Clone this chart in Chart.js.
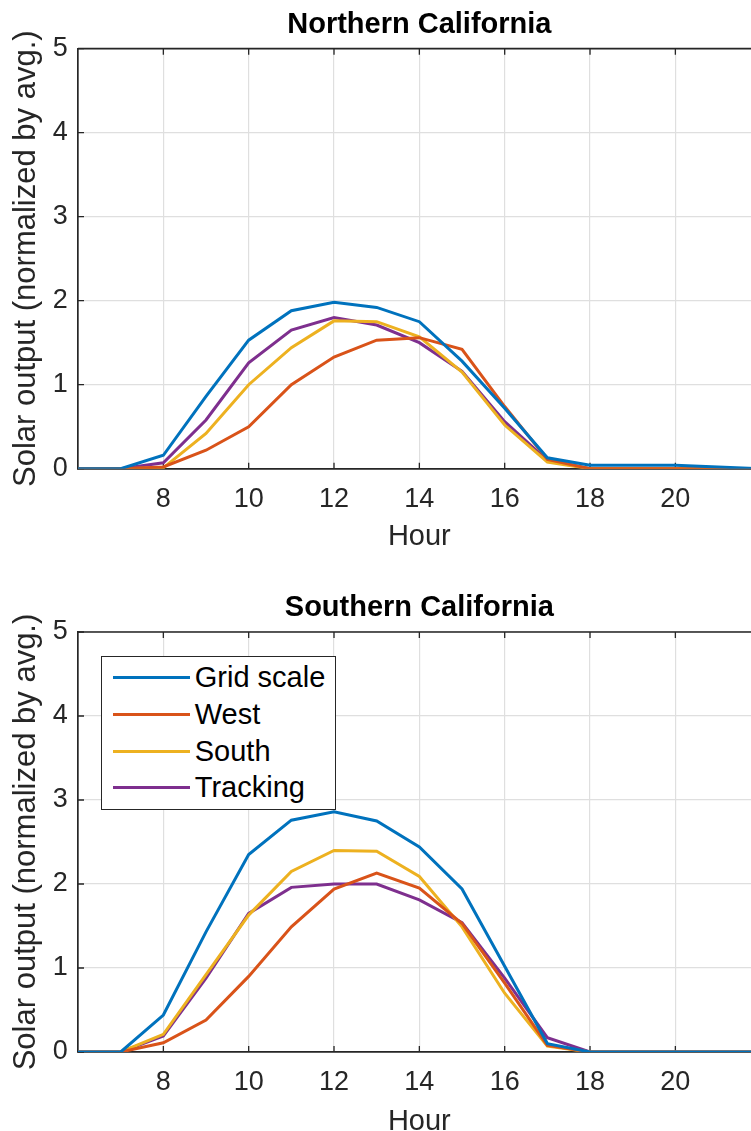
<!DOCTYPE html>
<html>
<head>
<meta charset="utf-8">
<script src="https://cdn.jsdelivr.net/npm/chart.js@4.4.1/dist/chart.umd.min.js"></script>
<style>
    html, body { margin: 0; padding: 0; background: #fff; }
    #figura { position: relative; width: 751px; height: 1131px; overflow: hidden; background: #fff; }
    .panel { position: absolute; left: 0; }
    #leyenda {
        position: absolute;
        width: 235px;
        height: 154px;
        box-sizing: border-box;
        border: 1.5px solid #262626;
        background: #fff;
        padding-top: 2.4px;
        font-family: "Liberation Sans", Arial, Helvetica, sans-serif;
        font-size: 29px;
        color: #000;
        white-space: nowrap;
    }
    .fila { display: flex; align-items: center; height: 36.7px; }
    .linea { display: inline-block; width: 76.7px; height: 3px; margin-left: 11.8px; margin-right: 4.6px; }
</style>
</head>
<body>
<div id="figura">
    <div class="panel" style="top:0px"><canvas id="chartNorte" width="800" height="565" style="width:800px;height:565px"></canvas></div>
    <div class="panel" style="top:565px"><canvas id="chartSur" width="800" height="590" style="width:800px;height:590px"></canvas></div>
    <div id="leyenda"></div>
</div>
<script>
const horas = [6, 7, 8, 9, 10, 11, 12, 13, 14, 15, 16, 17, 18, 19, 20, 21, 22];
const ticksHora = [8, 10, 12, 14, 16, 18, 20];
const ticksSalida = [0, 1, 2, 3, 4, 5];
const series = ["Grid scale", "West", "South", "Tracking"];

// Northern California
const norteGrid = [0, 0, 0.16, 0.86, 1.53, 1.88, 1.98, 1.92, 1.75, 1.28, 0.72, 0.13, 0.04, 0.04, 0.04, 0.02, 0];
const norteWest = [0, 0, 0.02, 0.22, 0.50, 1.00, 1.33, 1.53, 1.56, 1.42, 0.74, 0.11, 0, 0, 0, 0, 0];
const norteSouth = [0, 0, 0.01, 0.42, 1.00, 1.44, 1.76, 1.75, 1.57, 1.15, 0.52, 0.08, 0, 0, 0, 0, 0];
const norteTracking = [0, 0, 0.07, 0.58, 1.26, 1.65, 1.80, 1.71, 1.50, 1.16, 0.56, 0.10, 0, 0, 0, 0, 0];

// Southern California
const surGrid = [0, 0, 0.44, 1.43, 2.35, 2.76, 2.86, 2.75, 2.44, 1.94, 1.02, 0.10, 0, 0, 0, 0, 0];
const surWest = [0, 0, 0.11, 0.38, 0.90, 1.49, 1.94, 2.13, 1.95, 1.53, 0.82, 0.08, 0, 0, 0, 0, 0];
const surSouth = [0, 0, 0.21, 0.92, 1.63, 2.15, 2.40, 2.39, 2.09, 1.49, 0.70, 0.07, 0, 0, 0, 0, 0];
const surTracking = [0, 0, 0.19, 0.88, 1.65, 1.96, 2.00, 2.00, 1.81, 1.54, 0.88, 0.17, 0, 0, 0, 0, 0];

const colores = ["#0072BD", "#D95319", "#EDB120", "#7E2F8E"];
const fuente = "'Liberation Sans', Arial, Helvetica, sans-serif";
const colorEje = "#262626";

// marco superior y marcas hacia dentro, estilo MATLAB
const marcoEjes = {
    id: "marcoEjes",
    beforeDatasetsDraw(chart) {
        const { ctx, chartArea: a, scales: { x, y } } = chart;
        const largo = 6;
        ctx.save();
        ctx.strokeStyle = colorEje;
        ctx.lineWidth = 1.7;
        ctx.beginPath();
        ctx.moveTo(a.left, a.top);
        ctx.lineTo(a.right, a.top);
        ctx.lineTo(a.right, a.bottom);
        ctx.stroke();
        ctx.lineWidth = 1.3;
        ctx.beginPath();
        ticksHora.forEach(v => {
            const px = x.getPixelForValue(v);
            ctx.moveTo(px, a.bottom);
            ctx.lineTo(px, a.bottom - largo);
            ctx.moveTo(px, a.top);
            ctx.lineTo(px, a.top + largo);
        });
        ticksSalida.forEach(v => {
            const py = y.getPixelForValue(v);
            ctx.moveTo(a.left, py);
            ctx.lineTo(a.left + largo, py);
            ctx.moveTo(a.right, py);
            ctx.lineTo(a.right - largo, py);
        });
        ctx.stroke();
        ctx.restore();
    }
};

function crearGrafico(idCanvas, titulo, valores, disp) {
    const ctx = document.getElementById(idCanvas);
    return new Chart(ctx, {
        type: "line",
        data: {
            datasets: valores.map((serie, i) => ({
                label: series[i],
                data: horas.map((h, j) => ({ x: h, y: serie[j] })),
                borderColor: colores[i],
                backgroundColor: colores[i],
                borderWidth: 3,
                pointRadius: 0,
                tension: 0,
                fill: false
            }))
        },
        options: {
            responsive: false,
            animation: false,
            events: [],
            layout: { padding: { left: 0, right: 39.3, top: 0, bottom: 0 } },
            plugins: {
                legend: { display: false },
                tooltip: { enabled: false },
                title: {
                    display: true,
                    text: titulo,
                    fullSize: false,
                    color: "#000",
                    font: { family: fuente, size: 29, weight: "bold" },
                    padding: { top: disp.tituloArriba, bottom: disp.tituloAbajo }
                }
            },
            scales: {
                x: {
                    type: "linear",
                    min: 6,
                    max: 22,
                    afterBuildTicks: eje => { eje.ticks = ticksHora.map(v => ({ value: v })); },
                    afterFit: eje => { eje.height = disp.alto - disp.fondo; },
                    grid: { color: "#dfdfdf", lineWidth: 1.2, drawTicks: false },
                    border: { color: colorEje, width: 1.7 },
                    ticks: {
                        color: colorEje,
                        padding: 14.2,
                        maxRotation: 0,
                        autoSkip: false,
                        font: { family: fuente, size: 27 }
                    },
                    title: {
                        display: true,
                        text: "Hour",
                        color: colorEje,
                        font: { family: fuente, size: 29 },
                        padding: { top: 0, bottom: disp.horaAbajo }
                    }
                },
                y: {
                    min: 0,
                    max: 5,
                    afterBuildTicks: eje => { eje.ticks = ticksSalida.map(v => ({ value: v })); },
                    afterFit: eje => { eje.width = 78; },
                    grid: { color: "#dfdfdf", lineWidth: 1.2, drawTicks: false },
                    border: { color: colorEje, width: 1.7 },
                    ticks: {
                        color: colorEje,
                        padding: 10.3,
                        font: { family: fuente, size: 27 }
                    },
                    title: {
                        display: true,
                        text: "Solar output (normalized by avg.)",
                        color: colorEje,
                        font: { family: fuente, size: 31 },
                        padding: { top: 7.6, bottom: 0 }
                    }
                }
            }
        },
        plugins: [marcoEjes]
    });
}

function crearLeyenda(grafico, idLeyenda, desplazamiento) {
    const caja = document.getElementById(idLeyenda);
    const area = grafico.chartArea;
    caja.style.left = (area.left + 22.7) + "px";
    caja.style.top = (desplazamiento + area.top + 24) + "px";
    grafico.data.datasets.forEach(ds => {
        const fila = document.createElement("div");
        fila.className = "fila";
        const linea = document.createElement("span");
        linea.className = "linea";
        linea.style.background = ds.borderColor;
        const texto = document.createElement("span");
        texto.textContent = ds.label;
        fila.append(linea, texto);
        caja.appendChild(fila);
    });
}

const graficoNorte = crearGrafico("chartNorte", "Northern California",
    [norteGrid, norteWest, norteSouth, norteTracking],
    { alto: 565, fondo: 468.7, tituloArriba: 7.6, tituloAbajo: 6.3, horaAbajo: 10.9 });

const graficoSur = crearGrafico("chartSur", "Southern California",
    [surGrid, surWest, surSouth, surTracking],
    { alto: 590, fondo: 487, tituloArriba: 25.4, tituloAbajo: 6.8, horaAbajo: 15.9 });

crearLeyenda(graficoSur, "leyenda", 565);
</script>
</body>
</html>
